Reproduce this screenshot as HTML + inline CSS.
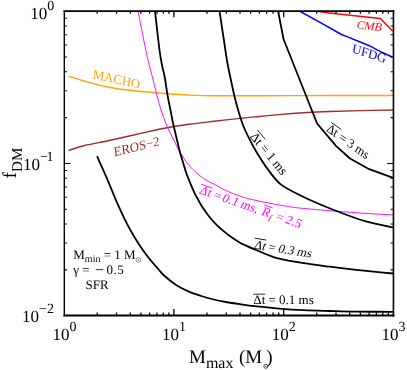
<!DOCTYPE html>
<html><head><meta charset="utf-8"><title>plot</title>
<style>
html,body{margin:0;padding:0;background:#fff;}
svg{display:block;will-change:transform;}
text{font-family:"Liberation Serif",serif;text-rendering:geometricPrecision;}
</style></head><body>
<svg width="407" height="370" viewBox="0 0 407 370">
<rect x="0" y="0" width="407" height="370" fill="#fff"/>
<clipPath id="c"><rect x="64.2" y="11.05" width="329.2" height="304.3"/></clipPath>
<g clip-path="url(#c)" fill="none" stroke-linejoin="round">
<path d="M68.60,76.30 C71.27,77.12 77.87,79.37 84.60,81.20 C91.33,83.03 100.82,85.70 109.00,87.30 C117.18,88.90 125.53,89.85 133.70,90.80 C141.87,91.75 148.78,92.30 158.00,93.00 C167.22,93.70 179.72,94.53 189.00,95.00 C198.28,95.47 201.87,95.68 213.70,95.80 C225.53,95.92 240.62,95.75 260.00,95.70 C279.38,95.65 309.17,95.53 330.00,95.50 C350.83,95.47 374.50,95.65 385.00,95.50 C395.50,95.35 391.67,94.75 393.00,94.60" stroke="#FFA500" stroke-width="1.4"/>
<path d="M68.60,150.40 C71.27,149.58 77.87,147.15 84.60,145.50 C91.33,143.85 100.82,142.25 109.00,140.50 C117.18,138.75 125.53,136.83 133.70,135.00 C141.87,133.17 151.57,130.88 158.00,129.50 C164.43,128.12 167.13,127.58 172.30,126.70 C177.47,125.82 182.10,125.10 189.00,124.20 C195.90,123.30 205.20,122.27 213.70,121.30 C222.20,120.33 233.18,119.13 240.00,118.40 C246.82,117.67 248.10,117.53 254.60,116.90 C261.10,116.27 270.82,115.28 279.00,114.60 C287.18,113.92 295.20,113.32 303.70,112.80 C312.20,112.28 320.62,111.87 330.00,111.50 C339.38,111.13 349.50,110.85 360.00,110.60 C370.50,110.35 387.50,110.10 393.00,110.00" stroke="#A52A2A" stroke-width="1.4"/>
<path d="M138.00,11.00 C139.30,17.50 143.93,41.00 145.80,50.00 C147.67,59.00 148.08,60.42 149.20,65.00 C150.32,69.58 151.22,72.48 152.50,77.50 C153.78,82.52 155.43,89.53 156.90,95.10 C158.37,100.67 159.75,106.08 161.30,110.90 C162.85,115.72 164.13,119.15 166.20,124.00 C168.27,128.85 171.43,135.38 173.70,140.00 C175.97,144.62 177.35,147.60 179.80,151.70 C182.25,155.80 185.32,160.82 188.40,164.60 C191.48,168.38 195.22,171.75 198.30,174.40 C201.38,177.05 204.03,178.77 206.90,180.50 C209.77,182.23 212.55,183.22 215.50,184.80 C218.45,186.38 221.03,188.30 224.60,190.00 C228.17,191.70 232.82,193.53 236.90,195.00 C240.98,196.47 243.67,197.43 249.10,198.80 C254.53,200.17 263.65,202.03 269.50,203.20 C275.35,204.37 279.28,205.00 284.20,205.80 C289.12,206.60 290.72,207.13 299.00,208.00 C307.28,208.87 322.77,210.10 333.90,211.00 C345.03,211.90 355.95,212.75 365.80,213.40 C375.65,214.05 388.47,214.65 393.00,214.90" stroke="#FF00FF" stroke-width="0.95"/>
<polyline points="315.4,11.0 330.0,13.0 350.0,15.3 366.3,16.9 380.4,18.4 392.8,31.3" stroke="#FF0000" stroke-width="1.5"/>
<polyline points="299.5,11.0 320.0,22.4 341.5,34.5 347.0,36.6 358.2,41.3 369.3,45.7 380.5,51.7 392.8,57.3" stroke="#0000FF" stroke-width="1.5"/>
<path d="M97.00,156.20 C98.53,159.62 103.32,170.03 106.20,176.70 C109.08,183.37 112.00,190.78 114.30,196.20 C116.60,201.62 117.57,204.00 120.00,209.20 C122.43,214.40 125.83,221.68 128.90,227.40 C131.97,233.12 135.25,238.62 138.40,243.50 C141.55,248.38 144.50,252.45 147.80,256.70 C151.10,260.95 155.40,265.78 158.20,269.00 C161.00,272.22 161.48,273.25 164.60,276.00 C167.72,278.75 172.83,282.90 176.90,285.50 C180.97,288.10 184.92,289.85 189.00,291.60 C193.08,293.35 197.28,294.68 201.40,296.00 C205.52,297.32 209.60,298.50 213.70,299.50 C217.80,300.50 221.62,301.22 226.00,302.00 C230.38,302.78 235.23,303.50 240.00,304.20 C244.77,304.90 248.10,305.47 254.60,306.20 C261.10,306.93 270.82,307.93 279.00,308.60 C287.18,309.27 295.20,309.80 303.70,310.20 C312.20,310.60 321.28,310.77 330.00,311.00 C338.72,311.23 345.50,311.45 356.00,311.60 C366.50,311.75 386.83,311.85 393.00,311.90" stroke="#000" stroke-width="1.8"/>
<path d="M155.00,11.00 C155.75,17.50 158.33,41.00 159.50,50.00 C160.67,59.00 161.12,60.42 162.00,65.00 C162.88,69.58 163.88,72.48 164.80,77.50 C165.72,82.52 166.47,89.25 167.50,95.10 C168.53,100.95 170.12,108.12 171.00,112.60 C171.88,117.08 171.80,117.43 172.80,122.00 C173.80,126.57 175.83,135.05 177.00,140.00 C178.17,144.95 178.92,148.37 179.80,151.70 C180.68,155.03 181.27,156.57 182.30,160.00 C183.33,163.43 184.67,168.42 186.00,172.30 C187.33,176.18 188.77,179.62 190.30,183.30 C191.83,186.98 194.05,191.95 195.20,194.40 C196.35,196.85 196.00,195.88 197.20,198.00 C198.40,200.12 200.32,203.90 202.40,207.10 C204.48,210.30 207.25,214.17 209.70,217.20 C212.15,220.23 214.63,222.85 217.10,225.30 C219.57,227.75 222.03,229.87 224.50,231.90 C226.97,233.93 229.45,235.78 231.90,237.50 C234.35,239.22 236.75,240.80 239.20,242.20 C241.65,243.60 244.13,244.73 246.60,245.90 C249.07,247.07 250.62,247.77 254.00,249.20 C257.38,250.63 262.73,252.93 266.90,254.50 C271.07,256.07 272.87,257.15 279.00,258.60 C285.13,260.05 295.20,261.85 303.70,263.20 C312.20,264.55 321.28,265.60 330.00,266.70 C338.72,267.80 347.55,268.87 356.00,269.80 C364.45,270.73 374.53,271.68 380.70,272.30 C386.87,272.92 390.95,273.30 393.00,273.50" stroke="#000" stroke-width="1.8"/>
<path d="M219.50,11.00 C220.23,15.83 222.80,32.67 223.90,40.00 C225.00,47.33 225.45,50.83 226.10,55.00 C226.75,59.17 227.00,60.83 227.80,65.00 C228.60,69.17 229.82,74.92 230.90,80.00 C231.98,85.08 233.35,91.40 234.30,95.50 C235.25,99.60 235.75,101.47 236.60,104.60 C237.45,107.73 238.63,111.73 239.40,114.30 C240.17,116.87 240.33,117.55 241.20,120.00 C242.07,122.45 242.75,124.90 244.60,129.00 C246.45,133.10 250.15,140.48 252.30,144.60 C254.45,148.72 254.88,149.55 257.50,153.70 C260.12,157.85 264.12,164.38 268.00,169.50 C271.88,174.62 275.13,179.95 280.80,184.40 C286.47,188.85 293.15,191.93 302.00,196.20 C310.85,200.47 323.27,205.80 333.90,210.00 C344.53,214.20 355.95,218.50 365.80,221.40 C375.65,224.30 388.47,226.40 393.00,227.40" stroke="#000" stroke-width="1.8"/>
<polyline points="278.1,11.0 283.5,39.0 317.1,123.5 336.2,146.1 350.0,158.5 369.2,169.2 393.2,177.9" stroke="#000" stroke-width="1.8"/>
</g>
<path d="M97.23,315.35v-2.75M97.23,11.05v2.75M116.56,315.35v-2.75M116.56,11.05v2.75M130.27,315.35v-2.75M130.27,11.05v2.75M140.90,315.35v-2.75M140.90,11.05v2.75M149.59,315.35v-2.75M149.59,11.05v2.75M156.94,315.35v-2.75M156.94,11.05v2.75M163.30,315.35v-2.75M163.30,11.05v2.75M168.91,315.35v-2.75M168.91,11.05v2.75M173.93,315.35v-6.25M173.93,11.05v6.25M206.97,315.35v-2.75M206.97,11.05v2.75M226.29,315.35v-2.75M226.29,11.05v2.75M240.00,315.35v-2.75M240.00,11.05v2.75M250.63,315.35v-2.75M250.63,11.05v2.75M259.32,315.35v-2.75M259.32,11.05v2.75M266.67,315.35v-2.75M266.67,11.05v2.75M273.03,315.35v-2.75M273.03,11.05v2.75M278.65,315.35v-2.75M278.65,11.05v2.75M283.67,315.35v-6.25M283.67,11.05v6.25M316.70,315.35v-2.75M316.70,11.05v2.75M336.02,315.35v-2.75M336.02,11.05v2.75M349.73,315.35v-2.75M349.73,11.05v2.75M360.37,315.35v-2.75M360.37,11.05v2.75M369.06,315.35v-2.75M369.06,11.05v2.75M376.40,315.35v-2.75M376.40,11.05v2.75M382.77,315.35v-2.75M382.77,11.05v2.75M388.38,315.35v-2.75M388.38,11.05v2.75" stroke="#000" stroke-width="1.3" fill="none"/>
<path d="M64.2,269.87h2.75M393.4,269.87h-2.75M64.2,243.06h2.75M393.4,243.06h-2.75M64.2,224.04h2.75M393.4,224.04h-2.75M64.2,209.28h2.75M393.4,209.28h-2.75M64.2,197.23h2.75M393.4,197.23h-2.75M64.2,187.03h2.75M393.4,187.03h-2.75M64.2,178.20h2.75M393.4,178.20h-2.75M64.2,170.42h2.75M393.4,170.42h-2.75M64.2,163.45h6.25M393.4,163.45h-6.25M64.2,117.62h2.75M393.4,117.62h-2.75M64.2,90.81h2.75M393.4,90.81h-2.75M64.2,71.79h2.75M393.4,71.79h-2.75M64.2,57.03h2.75M393.4,57.03h-2.75M64.2,44.98h2.75M393.4,44.98h-2.75M64.2,34.78h2.75M393.4,34.78h-2.75M64.2,25.95h2.75M393.4,25.95h-2.75M64.2,18.17h2.75M393.4,18.17h-2.75" stroke="#000" stroke-width="1.05" fill="none"/>
<path d="M63.6,11.12H394.3" stroke="#000" stroke-width="1.75" fill="none"/>
<path d="M63.6,315.5H394.3" stroke="#000" stroke-width="1.8" fill="none"/>
<path d="M64.3,10.2V316.4" stroke="#000" stroke-width="1.4" fill="none"/>
<path d="M393.45,10.2V316.4" stroke="#000" stroke-width="1.6" fill="none"/>
<text x="64.4" y="339.8" font-size="17" text-anchor="middle">10<tspan font-size="14" dy="-8.9">0</tspan></text>
<text x="174.0" y="339.8" font-size="17" text-anchor="middle">10<tspan font-size="14" dy="-8.9">1</tspan></text>
<text x="283.7" y="339.8" font-size="17" text-anchor="middle">10<tspan font-size="14" dy="-8.9">2</tspan></text>
<text x="393.5" y="339.8" font-size="17" text-anchor="middle">10<tspan font-size="14" dy="-8.9">3</tspan></text>
<text x="54.3" y="18.6" font-size="17" text-anchor="end">10<tspan font-size="14" dy="-8.9">0</tspan></text>
<text x="53.6" y="170.2" font-size="17" text-anchor="end">10<tspan font-size="14" dy="-8.9">−<tspan dx="-1.3">1</tspan></tspan></text>
<text x="54.0" y="322.1" font-size="17" text-anchor="end">10<tspan font-size="14" dy="-8.9">−2</tspan></text>
<text x="189" y="362.5" font-size="19">M<tspan font-size="16" dy="5.8">max</tspan><tspan dy="-5.8" dx="0.8"> (M</tspan><tspan dx="3.9">)</tspan></text>
<circle cx="265.8" cy="366.3" r="2" fill="none" stroke="#000" stroke-width="0.7"/><circle cx="265.8" cy="366.3" r="0.6" fill="#000"/>
<text transform="translate(15.6,178.4) rotate(-90)" font-size="19.5">f<tspan font-size="15" dy="6.3">DM</tspan></text>
<text x="73.3" y="258.5" font-size="13">M<tspan font-size="10" dy="3.5">min</tspan><tspan dy="-3.5"> = 1 M</tspan></text>
<circle cx="138.3" cy="259.8" r="2.3" fill="none" stroke="#333" stroke-width="0.55"/><circle cx="138.3" cy="259.8" r="0.6" fill="#333"/>
<text x="73.3" y="274" font-size="13">γ = <tspan font-size="16" dy="0.8" dx="2.1">−</tspan><tspan x="106.4" dy="-0.8" letter-spacing="0.5">0.5</tspan></text>
<text x="85.5" y="288.7" font-size="13">SFR</text>
<g transform="translate(253.3,303.8) rotate(0) skewX(0)" fill="#000"><text x="0" y="0" font-size="13">Δt = 0.1 ms</text><path d="M-0.20,-9.60h12.20" stroke="#000" stroke-width="0.8"/></g>
<g transform="translate(253.3,248.6) rotate(8.8) skewX(-12)" fill="#000"><text x="0" y="0" font-size="12.6">Δt<tspan dx="-0.7"> = 0.3 ms</tspan></text><path d="M-2.42,-10.47h11.82" stroke="#000" stroke-width="0.8"/></g>
<g transform="translate(249.5,136.8) rotate(50.5) skewX(0)" fill="#000"><text x="0" y="0" font-size="13">Δt = 1 ms</text><path d="M-0.20,-10.50h12.20" stroke="#000" stroke-width="0.8"/></g>
<g transform="translate(325.9,130.8) rotate(35.5) skewX(8)" fill="#000"><text x="0" y="0" font-size="12.7">Δt = 3 ms</text><path d="M1.21,-9.96h11.92" stroke="#000" stroke-width="0.8"/></g>
<g transform="translate(198.4,193.2) rotate(19) skewX(-8)" fill="#FF00FF"><text x="0" y="0" font-size="12.75">Δt = <tspan dx="-1.2" letter-spacing="0.3">0.1</tspan><tspan dx="-0.7"> ms,</tspan><tspan dx="1.0"> R</tspan><tspan font-size="10" dy="3.5">f</tspan><tspan dy="-3.5"> = 2.5</tspan></text><path d="M-1.52,-9.42h11.97" stroke="#FF00FF" stroke-width="0.8"/><path d="M64.6,-10.3h9.0" stroke="#FF00FF" stroke-width="0.8"/></g>
<text transform="translate(92.5,78.3) rotate(12.5) skewX(6)" font-size="13" fill="#FFA500">MACHO</text>
<text transform="translate(114.2,156.5) rotate(-14) skewX(-8)" font-size="13" fill="#A52A2A">EROS−2</text>
<text transform="translate(356.0,28.3) rotate(6.5) skewX(-10)" font-size="11.5" fill="#FF0000">CMB</text>
<text transform="translate(351.6,52.2) rotate(18) skewX(6)" font-size="13" fill="#0000FF">UFDG</text>
</svg></body></html>
